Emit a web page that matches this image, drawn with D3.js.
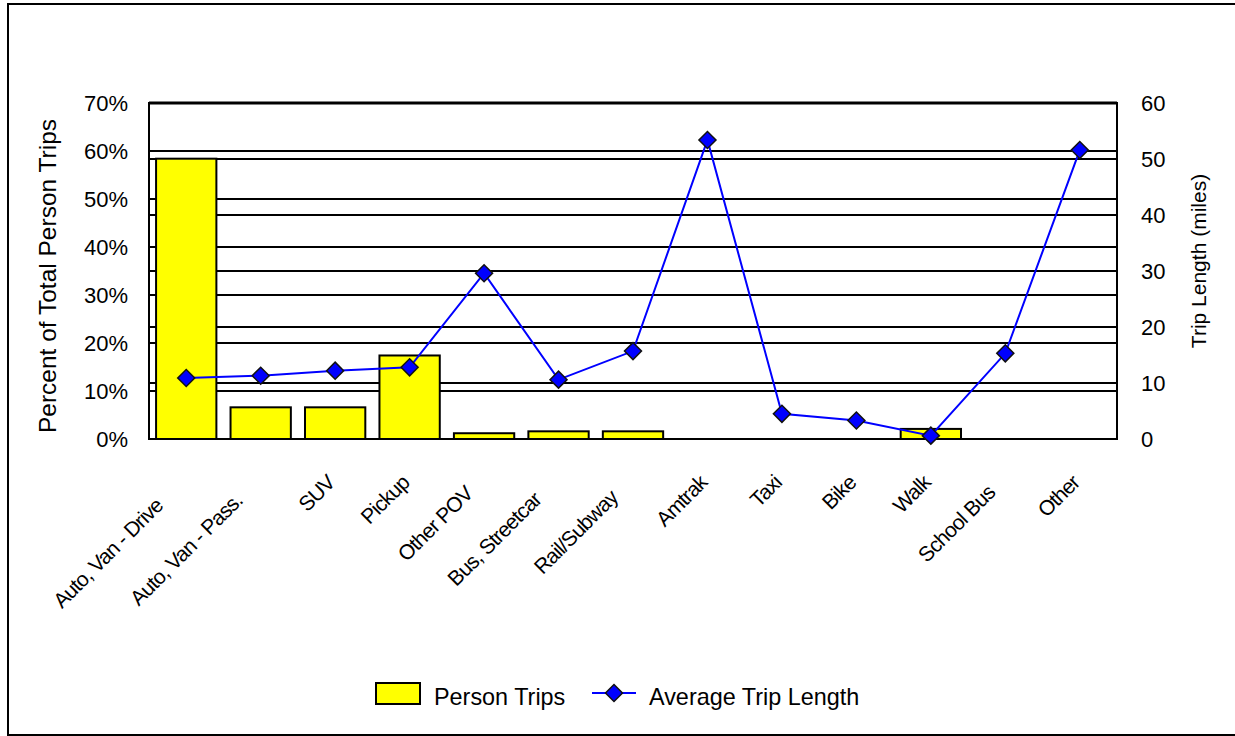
<!DOCTYPE html>
<html>
<head>
<meta charset="utf-8">
<script src="https://cdn.jsdelivr.net/npm/d3@7"></script>
<style>
  html, body { margin: 0; padding: 0; background: #fff; }
  svg text { font-family: "Liberation Sans", Arial, sans-serif; fill: #000; }
</style>
</head>
<body>
<svg id="chart" width="1235" height="736"></svg>
<script>
// ---- data ----
const categories = ["Auto, Van - Drive", "Auto, Van - Pass.", "SUV", "Pickup", "Other POV",
  "Bus, Streetcar", "Rail/Subway", "Amtrak", "Taxi", "Bike", "Walk", "School Bus", "Other"];
const personTripsPct = [58.4, 6.6, 6.6, 17.4, 1.2, 1.6, 1.6, 0, 0, 0, 2.1, 0, 0];
const avgTripLength = [10.9, 11.3, 12.2, 12.8, 29.6, 10.6, 15.7, 53.4, 4.5, 3.3, 0.6, 15.3, 51.6];
const leftTicks = [0, 10, 20, 30, 40, 50, 60, 70];
const leftTickLabels = ["0%", "10%", "20%", "30%", "40%", "50%", "60%", "70%"];
const rightTicks = [0, 10, 20, 30, 40, 50, 60];
const rightTickLabels = ["0", "10", "20", "30", "40", "50", "60"];
const seriesNames = ["Person Trips", "Average Trip Length"];

// ---- layout ----
const svg = d3.select("#chart");
const plot = { left: 149, right: 1117, top: 103, bottom: 439 };
const FS = 22;
// shift (px) of each category label along its own direction, as in the original's staggered layout
const labelSlide = [23, 18, 0, 0, 11, 17, 15, 0, 0, 0, 0, 10, 0];

// outer frame
svg.append("rect").attr("x", 8).attr("y", 4).attr("width", 1240).attr("height", 731)
  .attr("fill", "none").attr("stroke", "#000").attr("stroke-width", 2);

const x = d3.scaleBand().domain(categories).range([plot.left, plot.right])
  .paddingInner(0.19).paddingOuter(0.095);
const yL = d3.scaleLinear().domain([0, 70]).range([plot.bottom, plot.top]);
const yR = d3.scaleLinear().domain([0, 60]).range([plot.bottom, plot.top]);

// gridlines (both axes)
const grid = svg.append("g");
grid.selectAll("line.gl").data(leftTicks.slice(1, -1)).join("line")
  .attr("x1", plot.left).attr("x2", plot.right)
  .attr("y1", d => Math.round(yL(d))).attr("y2", d => Math.round(yL(d)))
  .attr("stroke", "#000").attr("stroke-width", 2);
grid.selectAll("line.gr").data(rightTicks.slice(1, -1)).join("line")
  .attr("x1", plot.left).attr("x2", plot.right)
  .attr("y1", d => Math.round(yR(d))).attr("y2", d => Math.round(yR(d)))
  .attr("stroke", "#000").attr("stroke-width", 2);

// bars
svg.append("g").selectAll("rect").data(categories).join("rect")
  .attr("x", d => x(d))
  .attr("y", (d, i) => yL(personTripsPct[i]))
  .attr("width", x.bandwidth())
  .attr("height", (d, i) => yL(0) - yL(personTripsPct[i]))
  .attr("fill", "#FFFF00").attr("stroke", "#000").attr("stroke-width", 2);

// plot frame
svg.append("line").attr("x1", plot.left).attr("x2", plot.right).attr("y1", plot.top).attr("y2", plot.top)
  .attr("stroke", "#000").attr("stroke-width", 3);
svg.append("rect").attr("x", plot.left).attr("y", plot.top).attr("width", plot.right - plot.left)
  .attr("height", plot.bottom - plot.top).attr("fill", "none").attr("stroke", "#000").attr("stroke-width", 2);

// line series
const cx = d => x(d) + x.bandwidth() / 2;
const lineGen = d3.line().x(d => cx(d)).y((d, i) => yR(avgTripLength[i]));
svg.append("path").datum(categories).attr("d", lineGen)
  .attr("fill", "none").attr("stroke", "#0000FF").attr("stroke-width", 2);
svg.append("g").selectAll("path").data(categories).join("path")
  .attr("transform", (d, i) => `translate(${cx(d)},${yR(avgTripLength[i])}) rotate(45)`)
  .attr("d", d3.symbol().type(d3.symbolSquare).size(145))
  .attr("fill", "#0000FF").attr("stroke", "#111").attr("stroke-width", 1.5);

// left axis labels
svg.append("g").selectAll("text").data(leftTicks).join("text")
  .attr("x", 128).attr("y", d => yL(d)).attr("dy", "0.35em")
  .attr("text-anchor", "end").attr("font-size", FS)
  .text((d, i) => leftTickLabels[i]);
// right axis labels
svg.append("g").selectAll("text").data(rightTicks).join("text")
  .attr("x", 1141).attr("y", d => yR(d)).attr("dy", "0.35em")
  .attr("text-anchor", "start").attr("font-size", FS)
  .text((d, i) => rightTickLabels[i]);

// axis titles
svg.append("text").attr("transform", `translate(56,276) rotate(-90)`)
  .attr("text-anchor", "middle").attr("font-size", 24.5).text("Percent of Total Person Trips");
svg.append("text").attr("transform", `translate(1206,261) rotate(-90)`)
  .attr("text-anchor", "middle").attr("font-size", 21).text("Trip Length (miles)");

// category labels
const s45 = Math.SQRT1_2;
svg.append("g").selectAll("text").data(categories).join("text")
  .attr("transform", (d, i) => `translate(${cx(d) + 1 - labelSlide[i] * s45 * 1.414},${484 + labelSlide[i]}) rotate(-45)`)
  .attr("text-anchor", "end").attr("font-size", 21).attr("letter-spacing", -0.8)
  .text(d => d);

// legend
const lg = svg.append("g");
lg.append("rect").attr("x", 376).attr("y", 683).attr("width", 44).attr("height", 21)
  .attr("fill", "#FFFF00").attr("stroke", "#000").attr("stroke-width", 2);
lg.append("text").attr("x", 434).attr("y", 697).attr("dy", "0.35em").attr("font-size", 23.4).text(seriesNames[0]);
lg.append("line").attr("x1", 592).attr("x2", 636).attr("y1", 693).attr("y2", 693)
  .attr("stroke", "#0000FF").attr("stroke-width", 2);
lg.append("path").attr("transform", "translate(614,693) rotate(45)")
  .attr("d", d3.symbol().type(d3.symbolSquare).size(145))
  .attr("fill", "#0000FF").attr("stroke", "#111").attr("stroke-width", 1.5);
lg.append("text").attr("x", 649).attr("y", 697).attr("dy", "0.35em").attr("font-size", 23.4).text(seriesNames[1]);
</script>
</body>
</html>
